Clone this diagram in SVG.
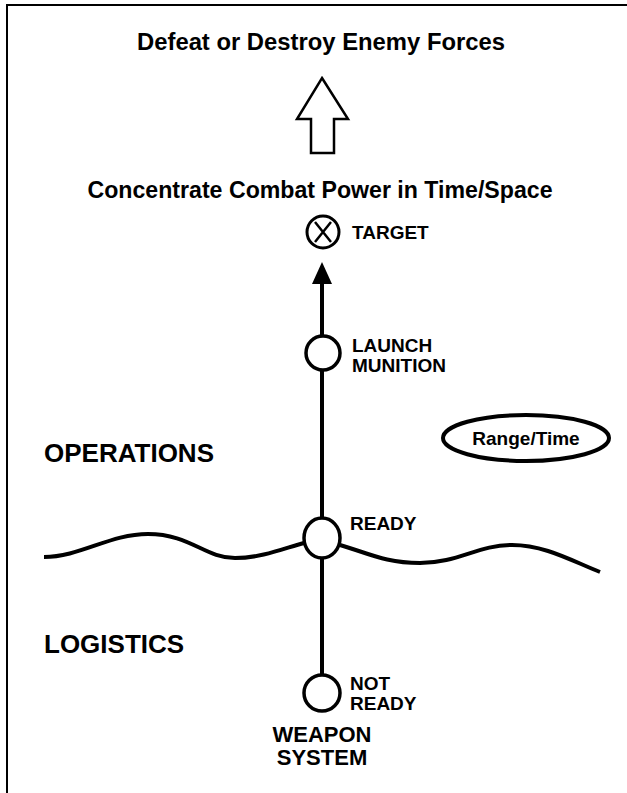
<svg xmlns="http://www.w3.org/2000/svg" width="627" height="793" viewBox="0 0 627 793">
<style>
text{font-family:"Liberation Sans",Arial,sans-serif;font-weight:bold;fill:#000}
.big{font-size:23px}
.sec{font-size:26px}
.lbl{font-size:19px}
.ws{font-size:22px}
.node{fill:#fff;stroke:#000;stroke-width:3.5}
.ln{fill:none;stroke:#000;stroke-width:4}
</style>
<defs>
<marker id="ah" viewBox="0 0 22 20" refX="2" refY="10" markerWidth="22" markerHeight="20" markerUnits="userSpaceOnUse" orient="auto">
<path d="M0,0 L22,10 L0,20 Z" fill="#000"/>
</marker>
</defs>
<rect x="7" y="5" width="640" height="800" fill="#fff" stroke="#000" stroke-width="2"/>
<g id="goal">
<text class="big" x="321" y="50" text-anchor="middle" textLength="368" lengthAdjust="spacingAndGlyphs">Defeat or Destroy Enemy Forces</text>
</g>
<g id="bigarrow">
<path d="M322,78 L348,119 L334,119 L334,153 L311,153 L311,119 L297,119 Z" fill="#fff" stroke="#000" stroke-width="2.5" stroke-linejoin="miter"/>
</g>
<g id="concentrate">
<text class="big" x="320" y="198" text-anchor="middle" textLength="465" lengthAdjust="spacingAndGlyphs">Concentrate Combat Power in Time/Space</text>
</g>
<g id="connectors">
<path class="ln" d="M322,336 L322,282" marker-end="url(#ah)"/>
<line class="ln" x1="322" y1="370" x2="322" y2="517"/>
<line class="ln" x1="322" y1="559" x2="322" y2="675"/>
<path class="ln" stroke-width="3.5" d="M44,557 C80,557 110,534 148,534 C190,534 205,558 235,558 C262,558 285,548 304,543 M340,545 C368,553 385,563 420,563 C458,563 478,545 512,545 C545,545 572,561 600,572"/>
</g>
<g id="target">
<circle cx="323" cy="232" r="16" fill="#fff" stroke="#000" stroke-width="3"/>
<path d="M315,222 L331,242 M331,222 L315,242" stroke="#000" stroke-width="2.5" fill="none"/>
<text class="lbl" x="352" y="239">TARGET</text>
</g>
<g id="launch">
<circle class="node" cx="323" cy="353" r="17"/>
<text class="lbl" x="352" y="352">LAUNCH</text>
<text class="lbl" x="352" y="372">MUNITION</text>
</g>
<g id="ready">
<ellipse class="node" cx="322" cy="538" rx="18" ry="20"/>
<text class="lbl" x="350" y="530">READY</text>
</g>
<g id="notready">
<circle class="node" cx="322" cy="693" r="18"/>
<text class="lbl" x="350" y="690">NOT</text>
<text class="lbl" x="350" y="710">READY</text>
</g>
<g id="weapon">
<text class="ws" x="322" y="742" text-anchor="middle">WEAPON</text>
<text class="ws" x="322" y="765" text-anchor="middle">SYSTEM</text>
</g>
<g id="operations">
<text class="sec" x="44" y="462">OPERATIONS</text>
</g>
<g id="logistics">
<text class="sec" x="44" y="653">LOGISTICS</text>
</g>
<g id="rangetime">
<ellipse cx="526" cy="438" rx="83" ry="23" fill="#fff" stroke="#000" stroke-width="4"/>
<text class="lbl" x="526" y="445" text-anchor="middle">Range/Time</text>
</g>
</svg>
